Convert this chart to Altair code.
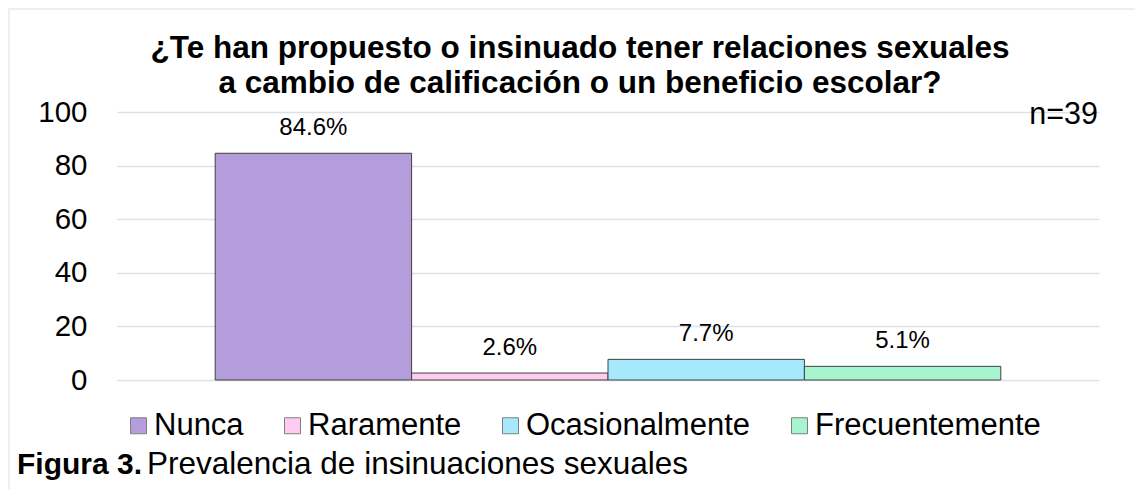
import altair as alt
import pandas as pd

categories = ["Nunca", "Raramente", "Ocasionalmente", "Frecuentemente"]
values = [84.6, 2.6, 7.7, 5.1]
labels = ["84.6%", "2.6%", "7.7%", "5.1%"]
colors = ["#B39DDB", "#FFCCEF", "#A6E9FC", "#A6F5CE"]
y_ticks = [0, 20, 40, 60, 80, 100]
title_line1 = "¿Te han propuesto o insinuado tener relaciones sexuales"
title_line2 = "a cambio de calificación o un beneficio escolar?"
n_text = "n=39"
caption_bold = "Figura 3."
caption_rest = "Prevalencia de insinuaciones sexuales"

FONT = "Liberation Sans"

df = pd.DataFrame({"cat": categories, "val": values, "lab": labels})

x_enc = alt.X("cat:N", sort=categories,
              scale=alt.Scale(paddingInner=0, paddingOuter=0.5), axis=None)
y_enc = alt.Y("val:Q", scale=alt.Scale(domain=[0, 100]),
              axis=alt.Axis(values=y_ticks, title=None, domain=False, ticks=False,
                            labelFontSize=29.5, labelFont=FONT, labelColor="black",
                            labelPadding=30, gridColor="#DCE1E8", gridWidth=1.5))

bars = alt.Chart(df).mark_bar(stroke="#404040", strokeWidth=1).encode(
    x=x_enc,
    y=y_enc,
    color=alt.Color("cat:N", sort=categories,
                    scale=alt.Scale(domain=categories, range=colors),
                    legend=alt.Legend(title=None, orient="none", legendX=6, legendY=298,
                                      direction="horizontal", columns=4,
                                      symbolType="square", symbolSize=256,
                                      symbolStrokeColor="#7F7F7F", symbolStrokeWidth=1,
                                      symbolOpacity=1, labelLimit=0,
                                      labelFontSize=31, labelFont=FONT, labelColor="black",
                                      labelOffset=0, columnPadding=33)),
)

text = alt.Chart(df).mark_text(font=FONT, fontSize=24, color="black",
                               baseline="middle", dy=-25).encode(
    x=x_enc, y=alt.Y("val:Q"), text="lab:N")


def label(t, **kw):
    return alt.Chart(pd.DataFrame({"t": [t]})).mark_text(
        font=FONT, color="black", baseline="middle", **kw).encode(text="t:N")


title1 = label(title_line1, fontSize=31.5, fontWeight="bold", align="center", x=463, y=-63)
title2 = label(title_line2, fontSize=31.5, fontWeight="bold", align="center", x=463, y=-28)
n_lab = label(n_text, fontSize=30.5, align="right", x=981, y=3)
cap1 = label(caption_bold, fontSize=30, fontWeight="bold", align="left", x=-100, y=353)
cap2 = label(caption_rest, fontSize=31.5, align="left", x=30, y=353)

frame = alt.Chart(pd.DataFrame({"t": [0]})).mark_rect(
    fill=None, stroke="#E9E9E9", strokeWidth=1.5).encode(
    x=alt.value(-108), x2=alt.value(1200), y=alt.value(-103), y2=alt.value(600))

chart = alt.layer(frame, bars, text, title1, title2, n_lab, cap1, cap2).properties(
    width=982, height=268,
    autosize=alt.AutoSizeParams(type="none"),
    padding={"left": 109, "top": 104, "right": 36, "bottom": 109},
).configure_view(stroke=None)

chart.save("out.html", embed_options={"renderer": "svg", "actions": False})
